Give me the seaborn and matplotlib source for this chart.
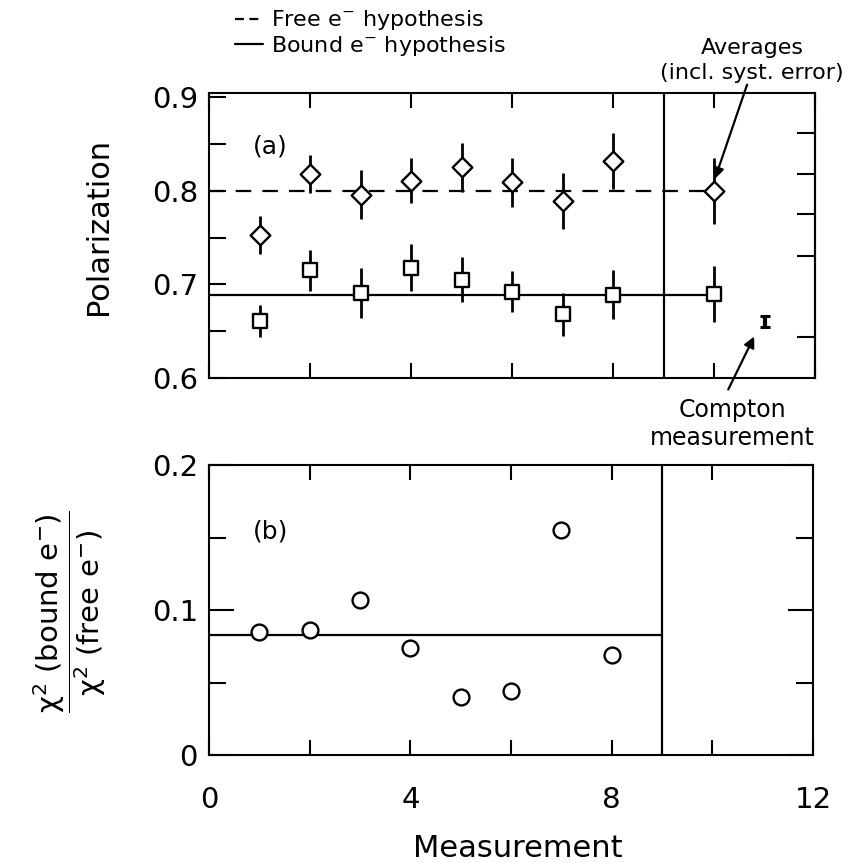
import matplotlib
matplotlib.use("Agg")
import matplotlib.pyplot as plt
import seaborn as sns
import pandas as pd
from matplotlib.lines import Line2D
from matplotlib.ticker import FixedLocator, FixedFormatter, MultipleLocator

# ---------------- data ----------------
measurement = [1, 2, 3, 4, 5, 6, 7, 8]
pol_free = [0.753, 0.818, 0.796, 0.811, 0.825, 0.809, 0.789, 0.832]
pol_free_err = [0.020, 0.020, 0.026, 0.024, 0.026, 0.026, 0.030, 0.030]
pol_bound = [0.661, 0.715, 0.691, 0.718, 0.705, 0.692, 0.668, 0.689]
pol_bound_err = [0.017, 0.022, 0.027, 0.025, 0.024, 0.022, 0.023, 0.026]
avg_x = [10]
avg_free = [0.800]
avg_free_err = [0.035]
avg_bound = [0.690]
avg_bound_err = [0.030]
free_hyp = 0.800
bound_hyp = 0.689
compton_x = [11]
compton_pol = [0.660]
compton_err = [0.006]
chi2_ratio = [0.085, 0.086, 0.107, 0.074, 0.040, 0.044, 0.155, 0.069]
chi2_ratio_avg = 0.083
split_x = 9

x_ticks = [0, 4, 8, 12]
x_tick_labels = ["0", "4", "8", "12"]
pol_ticks = [0.6, 0.7, 0.8, 0.9]
pol_tick_labels = ["0.6", "0.7", "0.8", "0.9"]
pol_right_ticks = [0.644, 0.730, 0.775, 0.818, 0.862]
ratio_ticks = [0.0, 0.1, 0.2]
ratio_tick_labels = ["0", "0.1", "0.2"]

df_free = pd.DataFrame({"m": measurement, "p": pol_free})
df_bound = pd.DataFrame({"m": measurement, "p": pol_bound})
df_ratio = pd.DataFrame({"m": measurement, "r": chi2_ratio})

# ---------------- style ----------------
sns.set_theme(style="ticks")
plt.rcParams["font.family"] = ["DejaVu Sans"]
plt.rcParams["mathtext.fontset"] = "dejavusans"
plt.rcParams["axes.linewidth"] = 1.5
for key in ["text.color", "axes.labelcolor", "xtick.color", "ytick.color", "axes.edgecolor"]:
    plt.rcParams[key] = "black"

W, H = 848, 863
fig = plt.figure(figsize=(W / 100, H / 100), dpi=100)


def fx(x):
    return x / W


def fy(y):
    return 1 - y / H


def rect(l, t, r, b):
    return [fx(l), fy(b), fx(r) - fx(l), fy(t) - fy(b)]


ax1 = fig.add_axes(rect(209, 93, 815, 378))
ax2 = fig.add_axes(rect(209, 465, 813, 755))

ink = "black"
lw = 1.6

# ---------------- panel (a) ----------------
ax1.hlines(free_hyp, 0, avg_x[0], colors=ink, linestyles=(0, (7, 5)), lw=lw, zorder=1)
ax1.hlines(bound_hyp, 0, avg_x[0], colors=ink, lw=lw, zorder=1)
ax1.axvline(split_x, color=ink, lw=lw, zorder=1)

ax1.errorbar(measurement, pol_free, yerr=pol_free_err, fmt="none", ecolor=ink, elinewidth=2, zorder=2)
ax1.errorbar(measurement, pol_bound, yerr=pol_bound_err, fmt="none", ecolor=ink, elinewidth=2, zorder=2)
ax1.errorbar(avg_x, avg_free, yerr=avg_free_err, fmt="none", ecolor=ink, elinewidth=2, zorder=2)
ax1.errorbar(avg_x, avg_bound, yerr=avg_bound_err, fmt="none", ecolor=ink, elinewidth=2, zorder=2)
ax1.errorbar(compton_x, compton_pol, yerr=compton_err, fmt="none", ecolor=ink,
             elinewidth=3, capsize=3.5, capthick=2.2, zorder=2)

sns.scatterplot(data=df_free, x="m", y="p", marker="D", s=100, facecolor="white",
                edgecolor=ink, linewidth=1.7, ax=ax1, zorder=3)
sns.scatterplot(x=avg_x, y=avg_free, marker="D", s=100, facecolor="white",
                edgecolor=ink, linewidth=1.7, ax=ax1, zorder=3)
sns.scatterplot(data=df_bound, x="m", y="p", marker="s", s=95, facecolor="white",
                edgecolor=ink, linewidth=1.7, ax=ax1, zorder=3)
sns.scatterplot(x=avg_x, y=avg_bound, marker="s", s=95, facecolor="white",
                edgecolor=ink, linewidth=1.7, ax=ax1, zorder=3)

ax1.set_xlim(0, 12)
ax1.set_ylim(0.6, 0.9045)
ax1.set_xlabel("")
ax1.set_ylabel("")
ax1.xaxis.set_major_locator(FixedLocator(x_ticks))
ax1.xaxis.set_minor_locator(MultipleLocator(2))
ax1.yaxis.set_major_locator(FixedLocator(pol_ticks))
ax1.yaxis.set_major_formatter(FixedFormatter(pol_tick_labels))
ax1.yaxis.set_minor_locator(MultipleLocator(0.05))
ax1.tick_params(axis="x", which="both", direction="in", top=True, bottom=True,
                labelbottom=False, length=11, width=1.5)
ax1.tick_params(axis="y", which="both", direction="in", left=True, right=False,
                labelsize=21, length=12, width=1.5, pad=8)
sec = ax1.secondary_yaxis("right")
sec.yaxis.set_major_locator(FixedLocator(pol_right_ticks))
sec.tick_params(direction="in", length=13, width=1.5, labelright=False)
sec.spines["right"].set_linewidth(1.5)

ax1.text(0.073, 0.814, "(a)", transform=ax1.transAxes, fontsize=18, ha="left", va="center")

ax1.annotate("", xy=(avg_x[0], avg_free[0] + 0.010), xycoords="data",
             xytext=(fx(748), fy(82)), textcoords="figure fraction",
             arrowprops=dict(arrowstyle="-|>", color=ink, lw=1.6, mutation_scale=16))
ax1.annotate("", xy=(compton_x[0] - 0.18, compton_pol[0] - 0.013), xycoords="data",
             xytext=(fx(727), fy(392)), textcoords="figure fraction",
             arrowprops=dict(arrowstyle="-|>", color=ink, lw=1.6, mutation_scale=16))

fig.text(fx(752), fy(48), "Averages", ha="center", va="center", fontsize=16)
fig.text(fx(752), fy(73), "(incl. syst. error)", ha="center", va="center", fontsize=16)
fig.text(fx(732), fy(410), "Compton", ha="center", va="center", fontsize=17)
fig.text(fx(732), fy(438), "measurement", ha="center", va="center", fontsize=17)

handles = [Line2D([], [], color=ink, lw=lw, linestyle=(0, (4, 2.5))),
           Line2D([], [], color=ink, lw=lw)]
labels = ["Free e$^{-}$ hypothesis", "Bound e$^{-}$ hypothesis"]
fig.legend(handles, labels, loc="upper left", bbox_to_anchor=(fx(222), fy(-5)),
           frameon=False, fontsize=16, handlelength=1.25, handletextpad=0.35,
           labelspacing=0.08, borderpad=0.1)

# ---------------- panel (b) ----------------
ax2.hlines(chi2_ratio_avg, 0, split_x, colors=ink, lw=lw, zorder=1)
ax2.axvline(split_x, color=ink, lw=lw, zorder=1)
sns.scatterplot(data=df_ratio, x="m", y="r", marker="o", s=130, facecolor="white",
                edgecolor=ink, linewidth=1.7, ax=ax2, zorder=3)

ax2.set_xlim(0, 12)
ax2.set_ylim(0, 0.2)
ax2.set_xlabel("")
ax2.set_ylabel("")
ax2.xaxis.set_major_locator(FixedLocator(x_ticks))
ax2.xaxis.set_major_formatter(FixedFormatter(x_tick_labels))
ax2.xaxis.set_minor_locator(MultipleLocator(2))
ax2.tick_params(axis="x", which="both", direction="in", top=True, bottom=True,
                labelsize=21, length=11, width=1.5, pad=22)
ax2.yaxis.set_major_locator(FixedLocator(ratio_ticks))
ax2.yaxis.set_major_formatter(FixedFormatter(ratio_tick_labels))
ax2.yaxis.set_minor_locator(MultipleLocator(0.05))
ax2.tick_params(axis="y", which="major", direction="in", left=True, right=True,
                labelsize=21, length=18, width=1.5, pad=8)
ax2.tick_params(axis="y", which="minor", direction="in", left=True, right=True,
                length=12, width=1.5)

ax2.text(0.073, 0.772, "(b)", transform=ax2.transAxes, fontsize=18, ha="left", va="center")

# ---------------- axis titles ----------------
fig.text(fx(98), fy(226), "Polarization", rotation=90, ha="center", va="center", fontsize=22)
fig.text(fx(70), fy(612),
         r"$\dfrac{\mathrm{χ^2\ (bound\ e^{-})}}{\mathrm{χ^2\ (free\ e^{-})}}$",
         rotation=90, ha="center", va="center", fontsize=21)
fig.text(fx(518), fy(848), "Measurement", ha="center", va="center", fontsize=22)

fig.savefig("out.png", dpi=100)
